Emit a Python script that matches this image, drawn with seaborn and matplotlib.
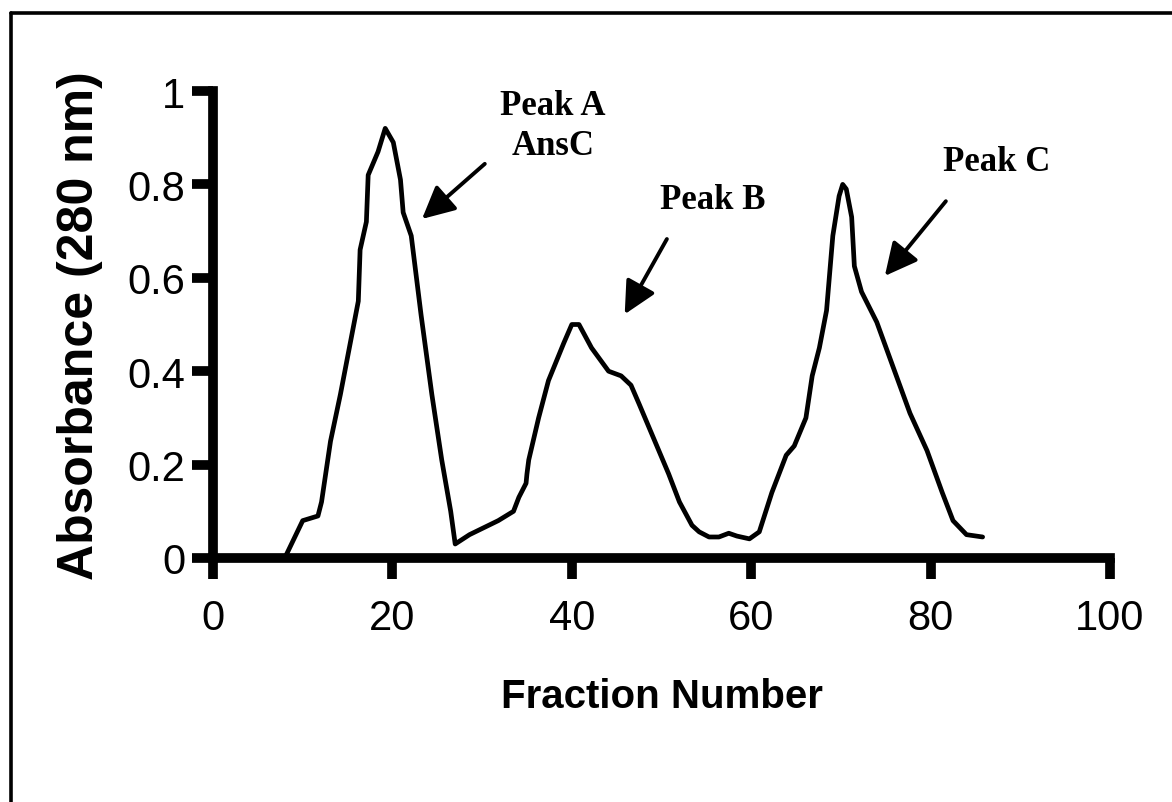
import matplotlib
matplotlib.use("Agg")
import matplotlib.pyplot as plt
from matplotlib.lines import Line2D
import seaborn as sns
import pandas as pd

# Elution profile: absorbance at 280 nm per collected fraction
fraction = [8.0, 10.0, 11.7, 12.1, 13.1, 14.2, 15.3, 16.2, 16.4, 17.1, 17.3, 18.4,
            19.2, 20.1, 20.9, 21.2, 22.1, 23.2, 24.4, 25.5, 26.5, 27.0, 28.6, 31.8,
            33.5, 34.1, 34.9, 35.0, 35.2, 36.3, 37.4, 39.1, 40.0, 40.8, 42.2, 44.1,
            45.5, 46.6, 47.5, 49.7, 50.8, 52.0, 53.4, 54.2, 55.3, 56.4, 57.5, 58.4,
            59.8, 60.9, 62.3, 63.9, 64.8, 66.1, 66.8, 67.6, 68.4, 69.1, 69.8, 70.2,
            70.6, 71.2, 71.5, 72.3, 74.0, 75.8, 77.7, 79.6, 81.3, 82.5, 84.0, 85.8]
absorbance = [0.0, 0.08, 0.09, 0.12, 0.25, 0.35, 0.46, 0.55, 0.66, 0.72, 0.82, 0.87,
              0.92, 0.89, 0.81, 0.74, 0.69, 0.52, 0.35, 0.21, 0.10, 0.03, 0.05, 0.08,
              0.10, 0.13, 0.16, 0.18, 0.21, 0.30, 0.38, 0.46, 0.50, 0.50, 0.45, 0.40,
              0.39, 0.37, 0.33, 0.23, 0.18, 0.12, 0.07, 0.056, 0.045, 0.045, 0.053, 0.047,
              0.041, 0.056, 0.14, 0.22, 0.24, 0.30, 0.39, 0.45, 0.53, 0.69, 0.775, 0.80,
              0.79, 0.73, 0.625, 0.57, 0.505, 0.41, 0.31, 0.23, 0.14, 0.08, 0.05, 0.045]

x_ticks = [0, 20, 40, 60, 80, 100]
y_ticks = [0, 0.2, 0.4, 0.6, 0.8, 1]
y_tick_labels = ["0", "0.2", "0.4", "0.6", "0.8", "1"]

peak_labels = ["Peak A\nAnsC", "Peak B", "Peak C"]
label_pos = [(37.9, 0.926), (55.7, 0.767), (87.4, 0.848)]
arrow_tail = [(30.3, 0.844), (50.6, 0.683), (81.7, 0.764)]
arrow_head = [(23.3, 0.726), (45.9, 0.522), (74.9, 0.604)]

df = pd.DataFrame({"Fraction Number": fraction, "Absorbance": absorbance})

sns.set_style("ticks")
plt.rcParams["font.family"] = ["Liberation Sans", "DejaVu Sans"]
plt.rcParams["text.color"] = "black"
plt.rcParams["axes.labelcolor"] = "black"

W, H = 1172, 803
fig = plt.figure(figsize=(W / 100, H / 100), dpi=100)
fig.patch.set_facecolor("white")
ax = fig.add_axes([213 / W, 1 - 559 / H, (1110 - 213) / W, (559 - 92) / H])

sns.lineplot(data=df, x="Fraction Number", y="Absorbance", ax=ax,
             color="black", linewidth=3.4, estimator=None, sort=True)
for line in ax.get_lines():
    line.set_solid_joinstyle("round")
    line.set_solid_capstyle("round")

ax.set_xlim(0, 100)
ax.set_ylim(0, 1)
ax.set_xticks(x_ticks)
ax.set_xticklabels([str(t) for t in x_ticks])
ax.set_yticks(y_ticks)
ax.set_yticklabels(y_tick_labels)

for side in ("top", "right"):
    ax.spines[side].set_visible(False)
for side in ("left", "bottom"):
    ax.spines[side].set_linewidth(7)
    ax.spines[side].set_color("black")
    ax.spines[side].set_capstyle("projecting")

ax.tick_params(axis="both", direction="out", length=15, width=7, color="black",
               labelsize=30, labelcolor="black")
ax.tick_params(axis="y", pad=5)
ax.tick_params(axis="x", pad=14)

ax.set_xlabel("Fraction Number", fontsize=29, fontweight="bold", va="center",
              color="black")
ax.xaxis.set_label_coords(0.5, (559 - 697) / 467)
ax.set_ylabel("Absorbance (280 nm)", fontsize=36, fontweight="bold", va="center",
              color="black")
ax.yaxis.set_label_coords((80 - 213) / 897, 0.5)

for text, pos, tail, head in zip(peak_labels, label_pos, arrow_tail, arrow_head):
    ax.text(pos[0], pos[1], text, ha="center", va="center", multialignment="center",
            fontsize=25, fontweight="bold", family="Liberation Serif",
            linespacing=1.3, color="black")
    ax.annotate("", xy=head, xytext=tail,
                arrowprops=dict(arrowstyle="-|>,head_length=0.9,head_width=0.45",
                                color="black", lw=2.8, shrinkA=0, shrinkB=0,
                                mutation_scale=22))

# Frame around the figure (top and left edges)
fig.add_artist(Line2D([11 / W, 11 / W], [0, 1 - 14 / H], transform=fig.transFigure,
                      color="black", linewidth=2.6))
fig.add_artist(Line2D([11 / W, 1], [1 - 14 / H, 1 - 14 / H], transform=fig.transFigure,
                      color="black", linewidth=2.6))

fig.savefig("out.png", dpi=100, facecolor="white")
